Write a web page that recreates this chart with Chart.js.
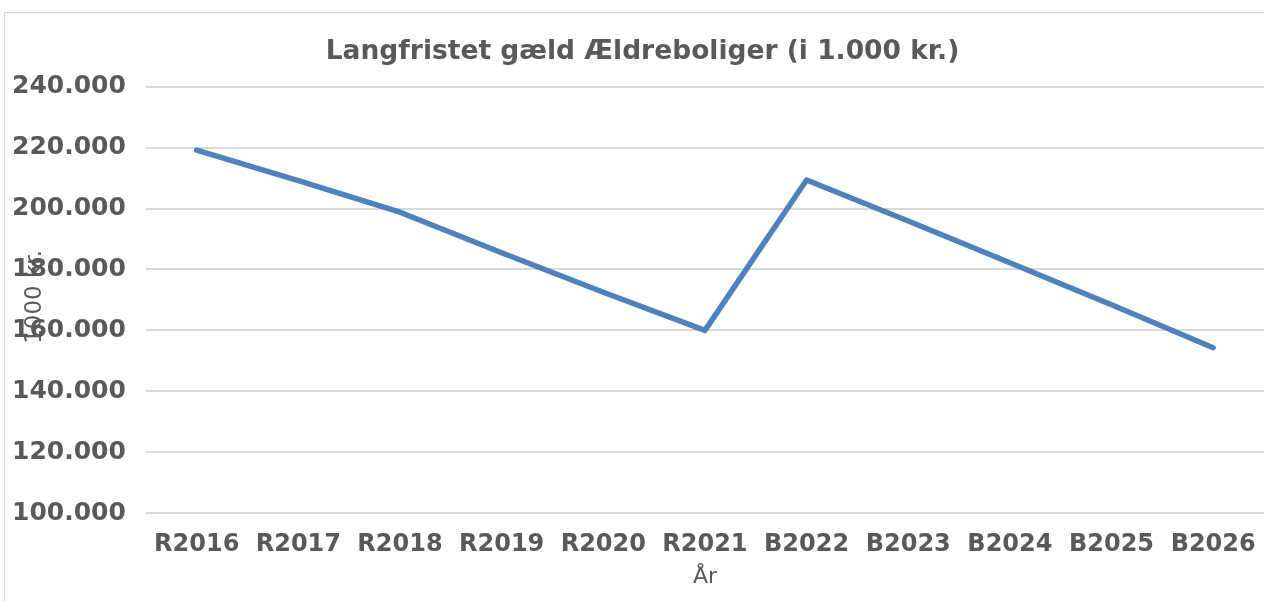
<!DOCTYPE html>
<html>
<head>
<meta charset="utf-8">
<script src="https://cdn.jsdelivr.net/npm/chart.js@4/dist/chart.umd.min.js"></script>
<style>
  html, body { margin: 0; padding: 0; background: #fff; overflow: hidden; }
  #frame { position: absolute; left: 4px; top: 12px; width: 1300px; height: 700px; border: 1px solid #d9d9d9; }
  #chart { position: absolute; left: 0; top: 0; }
</style>
</head>
<body>
<div id="frame"></div>
<canvas id="chart" width="1284" height="601"></canvas>
<script>
const years = ['R2016', 'R2017', 'R2018', 'R2019', 'R2020', 'R2021', 'B2022', 'B2023', 'B2024', 'B2025', 'B2026'];
const debt = [219200, 209200, 198800, 185500, 172500, 160000, 209400, 195900, 182200, 168400, 154300];
const chartTitle = 'Langfristet gæld Ældreboliger (i 1.000 kr.)';
const xTitle = 'År';
const yTitle = '1000 kr.';

const grey = '#595959';
const fontFamily = '"DejaVu Sans", Verdana, sans-serif';

function danishNumber(v) {
    return Math.round(v).toString().replace(/\B(?=(\d{3})+(?!\d))/g, '.');
}

// y title in Excel sits on top of the tick labels, so draw it by hand
const yTitlePlugin = {
    id: 'yTitle',
    afterLayout(chart) {
        // Excel centres the title on the whole frame, nudge it right a bit
        if (chart.titleBlock) chart.titleBlock.left += 29;
    },
    afterDraw(chart) {
        const c = chart.ctx;
        const area = chart.chartArea;
        c.save();
        c.translate(35, (area.top + area.bottom) / 2 - 3);
        c.rotate(-Math.PI / 2);
        c.font = '23px ' + fontFamily;
        c.fillStyle = grey;
        c.textAlign = 'center';
        c.textBaseline = 'middle';
        c.fillText(yTitle, 0, 0);
        c.restore();
    }
};

const ctx = document.getElementById('chart').getContext('2d');
let chart = new Chart(ctx, {
    type: 'line',
    data: {
        labels: years,
        datasets: [
            {
                label: 'Langfristet gæld',
                data: debt,
                borderColor: '#4f81bd',
                borderWidth: 5.5,
                borderCapStyle: 'round',
                borderJoinStyle: 'round',
                pointRadius: 0,
                tension: 0,
                fill: false
            }
        ]
    },
    options: {
        responsive: false,
        animation: false,
        layout: {
            padding: { left: -8, right: 20, top: 0, bottom: 0 }
        },
        plugins: {
            legend: { display: false },
            tooltip: { enabled: false },
            title: {
                display: true,
                text: chartTitle,
                color: grey,
                font: { family: fontFamily, size: 26.5, weight: 'bold' },
                padding: { top: 36, bottom: 19 }
            }
        },
        scales: {
            x: {
                offset: true,
                grid: { display: false, drawTicks: false },
                border: { display: false },
                ticks: {
                    color: grey,
                    font: { family: fontFamily, size: 24, weight: 'bold', lineHeight: 1 },
                    padding: 20,
                    maxRotation: 0,
                    autoSkip: false
                },
                title: {
                    display: true,
                    text: xTitle,
                    color: grey,
                    font: { family: fontFamily, size: 22, lineHeight: 1 },
                    padding: { top: -11, bottom: 13 }
                }
            },
            y: {
                min: 100000,
                max: 240000,
                grid: { color: '#d9d9d9', lineWidth: 2, drawTicks: false },
                border: { display: false },
                ticks: {
                    stepSize: 20000,
                    color: grey,
                    font: { family: fontFamily, size: 25, weight: 'bold' },
                    padding: 20,
                    callback: (v) => danishNumber(v)
                }
            }
        }
    },
    plugins: [yTitlePlugin]
});
</script>
</body>
</html>
